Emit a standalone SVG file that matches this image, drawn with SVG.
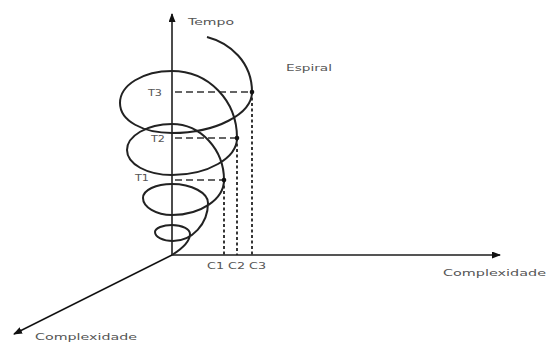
<svg xmlns="http://www.w3.org/2000/svg" width="547" height="342" viewBox="0 0 547 342">
<defs>
<marker id="arr" markerUnits="userSpaceOnUse" markerWidth="9" markerHeight="7" refX="8" refY="3.5" orient="auto">
<path d="M0,0 L9,3.5 L0,7 z" fill="#111"/>
</marker>
<style>
.axis{stroke:#111;stroke-width:1.5;fill:none}
.haxis{stroke:#555;stroke-width:2;fill:none}
.spiral{stroke:#222;stroke-width:2;fill:none}
.hd{stroke:#333;stroke-width:1.6;stroke-dasharray:7 4;fill:none}
.vd{stroke:#222;stroke-width:1.8;stroke-dasharray:3 2.5;fill:none}
.lbl{font-family:"DejaVu Sans",sans-serif;font-size:9px;fill:#555}
.dot{fill:#111}
</style>
</defs>
<rect width="547" height="342" fill="#fff"/>
<g id="connectors">
<line class="axis" x1="172" y1="256" x2="172" y2="14" marker-end="url(#arr)"/>
<line class="haxis" x1="172" y1="255" x2="500" y2="255" marker-end="url(#arr)"/>
<line class="axis" x1="172" y1="255" x2="14" y2="334" marker-end="url(#arr)"/>
<path class="hd" d="M175,92 H252 M175,138 H237 M175,180 H224"/>
<path class="vd" d="M224,180 V255 M237,138 V255 M252,92 V255"/>
</g>
<g id="spiral">
<path class="spiral" d="M207,37 C230,43 252,62 252,92
C252,114 216,133 172,133
C143,133 120,121 120,103
C120,85 143,71 172,71
C208,71 237,100 237,138
C237,158 208,175 172,175
C147,175 127,164 127,150
C127,136 147,124 172,124
C201,124 224,150 224,180
C224,199 201,215 172,215
C156,215 143,207 143,198
C143,190 156,184 172,184
C192,184 208,193 208,203
C208,224 192,241 173,241
C163,241 155,237 155,232
C155,228 163,225 172,225
C182,225 190,229 190,234
C190,242 180,250 172,255"/>
<circle class="dot" cx="252" cy="92" r="2.3"/>
<circle class="dot" cx="237" cy="138" r="2.3"/>
<circle class="dot" cx="224" cy="180" r="2.3"/>
</g>
<g id="labels">
<text class="lbl" x="188" y="25" textLength="46" lengthAdjust="spacingAndGlyphs">Tempo</text>
<text class="lbl" x="286" y="71" textLength="46" lengthAdjust="spacingAndGlyphs">Espiral</text>
<text class="lbl" x="148" y="96" textLength="14" lengthAdjust="spacingAndGlyphs">T3</text>
<text class="lbl" x="151" y="142" textLength="14" lengthAdjust="spacingAndGlyphs">T2</text>
<text class="lbl" x="135" y="181" textLength="14" lengthAdjust="spacingAndGlyphs">T1</text>
<text class="lbl" x="207" y="269" textLength="59" lengthAdjust="spacingAndGlyphs">C1 C2 C3</text>
<text class="lbl" x="443" y="276" textLength="103" lengthAdjust="spacingAndGlyphs">Complexidade</text>
<text class="lbl" x="35" y="340" textLength="102" lengthAdjust="spacingAndGlyphs">Complexidade</text>
</g>
</svg>
